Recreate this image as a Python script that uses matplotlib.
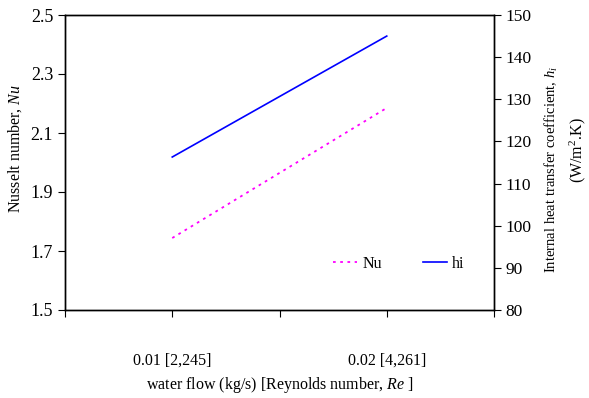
import matplotlib
matplotlib.use("Agg")
import matplotlib.pyplot as plt

plt.rcParams['font.family'] = ['Liberation Serif', 'DejaVu Serif']
plt.rcParams['mathtext.fontset'] = 'custom'
plt.rcParams['mathtext.rm'] = 'Liberation Serif'
plt.rcParams['mathtext.it'] = 'Liberation Serif:italic'

categories = ["0.01 [2,245]", "0.02 [4,261]"]
cat_pos = [1, 3]
nu_values = [1.744, 2.185]
hi_values = [116.3, 145.0]

fig = plt.figure(figsize=(5.89, 3.98), dpi=100)
ax = fig.add_axes([65/589, 1-310/398, (494-65)/589, (310-15)/398])
ax2 = ax.twinx()

l1, = ax.plot(cat_pos, nu_values, color='#ff00ff', linestyle=(0, (1.5, 2.5)), linewidth=1.3, label='Nu')
l2, = ax2.plot(cat_pos, hi_values, color='#0000ff', linewidth=1.2, label='hi')

ax.set_xlim(0, 4)
ax.set_ylim(1.5, 2.5)
ax.set_yticks([1.5, 1.7, 1.9, 2.1, 2.3, 2.5])
ax.set_yticklabels(['1.5', '1.7', '1.9', '2.1', '2.3', '2.5'])
ax2.set_ylim(80, 150)
ax2.set_yticks(range(80, 151, 10))

ax.set_xticks([0, 1, 2, 3, 4])
ax.set_xticklabels(['', categories[0], '', categories[1], ''])
ax.tick_params(axis='x', direction='out', length=5, pad=26, labelsize=11.5)
ax.tick_params(axis='y', direction='out', length=5, labelsize=13)
ax2.tick_params(axis='y', direction='out', length=5, labelsize=12.5)

for a in (ax, ax2):
    for s in a.spines.values():
        s.set_linewidth(1.0)

ax.set_ylabel('Nusselt number, $\\it{Nu}$', fontsize=11.5)
ax.yaxis.set_label_coords(-0.095, 0.546)
ax.set_xlabel('water flow (kg/s) [Reynolds number, $\\it{Re}$ ]', fontsize=11.5, labelpad=4)
ax2.set_ylabel('Internal heat transfer coefficient, $h_i$', fontsize=10.5)
ax2.yaxis.set_label_coords(1.115, 0.475)
fig.text(578/589, 1-150/398, '(W/m$^2$.K)', rotation=90, fontsize=11.5, ha='center', va='center')

ax.legend([l1, l2], ['Nu', 'hi'], loc='lower right', bbox_to_anchor=(0.965, 0.08), ncol=2,
          frameon=False, fontsize=11.5, handlelength=1.5, columnspacing=2.6, handletextpad=0.3)

fig.savefig('out.png', dpi=100)
